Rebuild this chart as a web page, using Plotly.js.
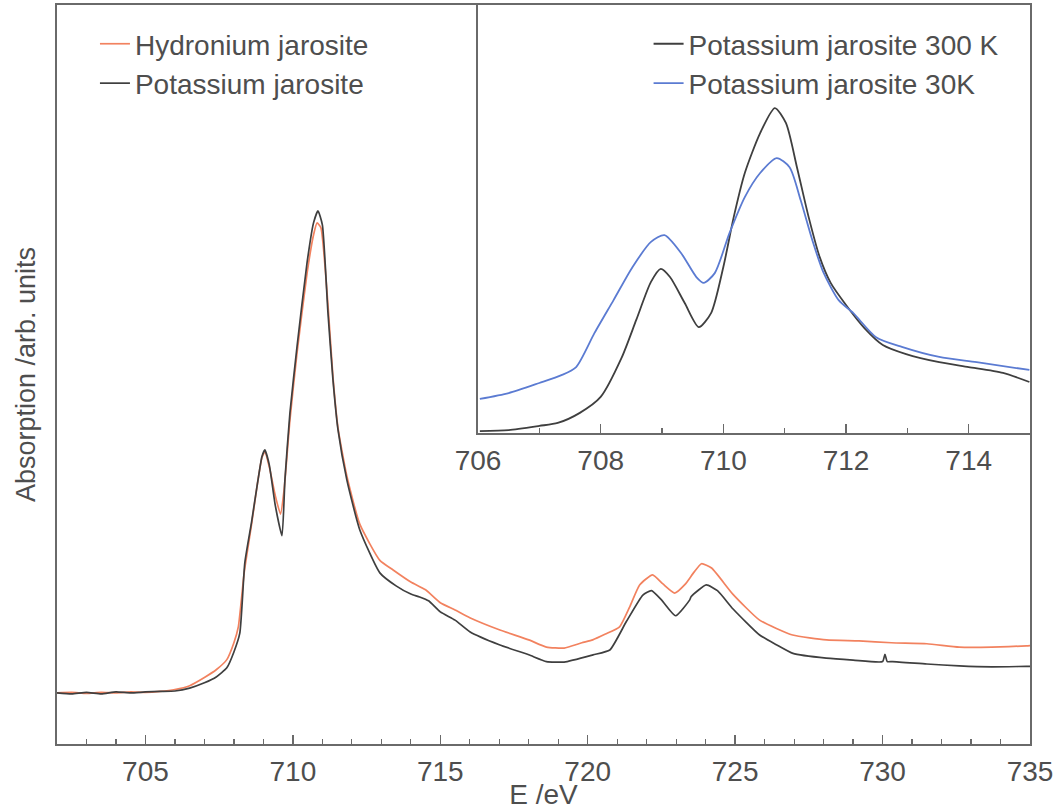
<!DOCTYPE html>
<html>
<head>
<meta charset="utf-8">
<script src="https://cdn.plot.ly/plotly-3.0.1.min.js"></script>
<style>html,body{margin:0;padding:0;background:#fff}#chart{width:1059px;height:810px}</style>
</head>
<body>
<div id="chart"></div>
<script>
// ---- Main panel: Fe L-edge XAS (normalised, arb. units) ----
const hydroniumEnergy = [702.0,702.5,703.0,703.5,704.0,704.5,705.0,705.5,706.0,706.5,707.0,707.4,707.76,708.0,708.15,708.35,708.6,708.8,708.95,709.05,709.2,709.4,709.58,709.7,709.9,710.14,710.48,710.7,710.82,710.95,711.19,711.36,711.53,711.83,712.27,712.95,713.4,714.0,714.5,715.0,715.5,716.0,717.0,718.0,718.6,719.2,719.8,720.17,720.6,721.08,721.42,721.76,722.2,722.55,722.95,723.3,723.6,723.86,724.2,724.92,725.83,726.95,728.1,729.2,730.3,731.5,732.6,733.7,734.88,735.0];
const hydroniumAbs = [0.0,0.1,-0.1,0.1,0.0,0.2,0.1,0.3,0.7,1.5,3.2,4.8,6.9,10.4,13.7,25.0,35.0,43.5,48.8,50.0,46.9,41.0,37.1,42.0,56.6,70.5,87.0,95.0,97.5,96.5,80.5,65.5,55.0,45.0,35.0,27.5,25.5,23.0,21.4,18.7,17.2,15.6,13.1,11.0,9.5,9.3,10.4,11.0,12.2,13.7,17.8,22.4,24.5,22.6,20.7,22.5,25.0,26.8,25.9,20.5,15.1,12.0,11.0,10.8,10.4,10.2,9.5,9.5,9.75,9.8];

const potassiumEnergy = [702.0,702.5,703.0,703.5,704.0,704.5,705.0,705.5,706.0,706.5,707.0,707.4,707.76,708.0,708.2,708.37,708.6,708.8,708.95,709.05,709.2,709.4,709.63,709.73,709.9,710.14,710.48,710.7,710.85,711.0,711.19,711.36,711.53,711.83,712.27,712.95,713.5,714.0,714.3,714.6,715.0,715.5,716.0,717.0,718.0,718.6,719.2,720.18,720.75,721.31,721.87,722.16,722.5,722.98,723.46,723.51,724.02,724.4,724.93,725.83,726.4,726.96,728.09,729.0,730.0,730.08,730.16,730.34,731.5,732.6,733.7,734.87,735.0];
const potassiumAbs = [0.0,-0.2,0.1,-0.2,0.2,0.0,0.2,0.3,0.4,1.0,2.1,3.3,5.2,8.5,12.4,27.0,35.5,43.5,49.0,50.4,47.3,39.0,32.6,44.2,58.1,71.8,89.2,97.5,100.0,97.1,78.8,64.9,54.6,44.2,33.8,24.9,22.2,20.5,19.9,19.1,16.8,15.1,12.7,10.0,7.9,6.5,6.4,7.9,8.9,14.8,20.3,21.2,19.3,16.0,19.3,20.0,22.4,21.2,17.4,12.0,10.0,8.2,7.2,6.8,6.5,8.0,6.5,6.5,6.0,5.6,5.4,5.5,5.5];

// ---- Inset: Potassium jarosite at 300 K and 30 K ----
const insetEnergy300 = [706.03,706.5,707.0,707.3,707.66,708.0,708.34,708.58,708.82,708.98,709.13,709.37,709.6,709.8,710.0,710.17,710.35,710.6,710.84,711.02,711.2,711.39,711.57,711.75,712.0,712.3,712.6,712.98,713.52,714.0,714.56,714.99];
const inset300K = [0.6,0.9,2.2,3.1,6.2,11.1,23.1,34.8,46.5,50.5,48.0,40.0,32.6,36.9,51.1,66.5,80.0,92.3,100.0,95.4,81.8,66.5,54.2,46.2,39.4,32.3,27.1,24.3,21.8,20.3,18.5,15.7];
const insetEnergy30 = [706.03,706.5,707.0,707.36,707.6,707.9,708.21,708.52,708.82,709.04,709.31,709.56,709.68,709.86,710.1,710.35,710.6,710.87,711.08,711.26,711.45,711.63,711.88,712.12,712.49,712.91,713.52,714.13,714.99];
const inset30K = [10.5,12.3,15.4,17.8,20.3,30.8,40.9,51.1,58.8,60.9,55.4,48.0,46.2,49.2,61.5,72.6,80.0,84.6,81.8,71.7,59.4,49.5,40.9,36.9,29.5,26.5,23.4,21.8,19.4];

// ---- Labels ----
const seriesNames = ['Hydronium jarosite','Potassium jarosite','Potassium jarosite 300 K','Potassium jarosite 30K'];
const xTitle = 'E /eV';
const yTitle = 'Absorption /arb. units';

const cRed = '#f2825f', cDark = '#3f3f3f', cBlue = '#5b7bd2';
const axisCol = '#6a6a6a', textCol = '#4e4e4e';
const fontFam = 'Liberation Sans, Arial, Helvetica, sans-serif';
const fs = 28;
const legFs = 28;

const traces = [
  {x: hydroniumEnergy, y: hydroniumAbs, name: seriesNames[0], type: 'scatter', mode: 'lines',
   line: {color: cRed, width: 1.7, shape: 'spline', smoothing: 0.5}, xaxis: 'x', yaxis: 'y', legend: 'legend'},
  {x: potassiumEnergy, y: potassiumAbs, name: seriesNames[1], type: 'scatter', mode: 'lines',
   line: {color: cDark, width: 1.7, shape: 'spline', smoothing: 0.5}, xaxis: 'x', yaxis: 'y', legend: 'legend'},
  {x: insetEnergy300, y: inset300K, name: seriesNames[2], type: 'scatter', mode: 'lines',
   line: {shape: 'spline', smoothing: 0.7, color: cDark, width: 1.8}, xaxis: 'x2', yaxis: 'y2', legend: 'legend2'},
  {x: insetEnergy30, y: inset30K, name: seriesNames[3], type: 'scatter', mode: 'lines',
   line: {shape: 'spline', smoothing: 0.7, color: cBlue, width: 1.8}, xaxis: 'x2', yaxis: 'y2', legend: 'legend2'}
];

const common = {showgrid: false, zeroline: false, showline: true, linecolor: axisCol, linewidth: 1.6, mirror: true};

const layout = {
  width: 1059, height: 810,
  margin: {l: 57, r: 29, t: 5, b: 66},
  paper_bgcolor: '#ffffff', plot_bgcolor: '#ffffff',
  font: {family: fontFam, size: fs, color: textCol},
  showlegend: true,
  xaxis: Object.assign({}, common, {
    domain: [0, 1], range: [702, 735], anchor: 'y',
    tickmode: 'linear', tick0: 705, dtick: 5,
    ticks: 'inside', ticklen: 9, tickwidth: 1.4, tickcolor: axisCol,
    minor: {ticks: 'inside', ticklen: 5, tickwidth: 1.2, tickcolor: axisCol, tickmode: 'linear', tick0: 702, dtick: 1, showgrid: false},
    tickfont: {size: fs, color: textCol}, ticklabelstandoff: 2,
    title: {text: xTitle, font: {size: fs, color: textCol}, standoff: 0}
  }),
  yaxis: Object.assign({}, common, {
    domain: [0, 1], range: [-10.6, 142.7], anchor: 'x',
    showticklabels: false, ticks: '',
    title: {text: yTitle, font: {size: 27, color: textCol}, standoff: 12}
  }),
  xaxis2: Object.assign({}, common, {
    domain: [0.4327, 1], range: [706, 715], anchor: 'y2',
    tickmode: 'linear', tick0: 706, dtick: 2,
    ticks: 'inside', ticklen: 9, tickwidth: 1.4, tickcolor: axisCol,
    minor: {ticks: 'inside', ticklen: 5, tickwidth: 1.2, tickcolor: axisCol, tickmode: 'linear', tick0: 706, dtick: 1, showgrid: false},
    tickfont: {size: fs, color: textCol}, ticklabelstandoff: 2
  }),
  yaxis2: Object.assign({}, common, {
    domain: [0.4208, 1], range: [0, 131.7], anchor: 'x2',
    showticklabels: false, ticks: ''
  }),
  legend: {x: 0.039, y: 0.981, xanchor: 'left', yanchor: 'top', bgcolor: 'rgba(0,0,0,0)',
    font: {size: legFs, color: textCol}, tracegroupgap: 0, itemwidth: 30},
  legend2: {x: 0.608, y: 0.981, xanchor: 'left', yanchor: 'top', bgcolor: 'rgba(0,0,0,0)',
    font: {size: legFs, color: textCol}, tracegroupgap: 0, itemwidth: 30}
};

Plotly.newPlot('chart', traces, layout, {displayModeBar: false, staticPlot: true});
</script>
</body>
</html>
